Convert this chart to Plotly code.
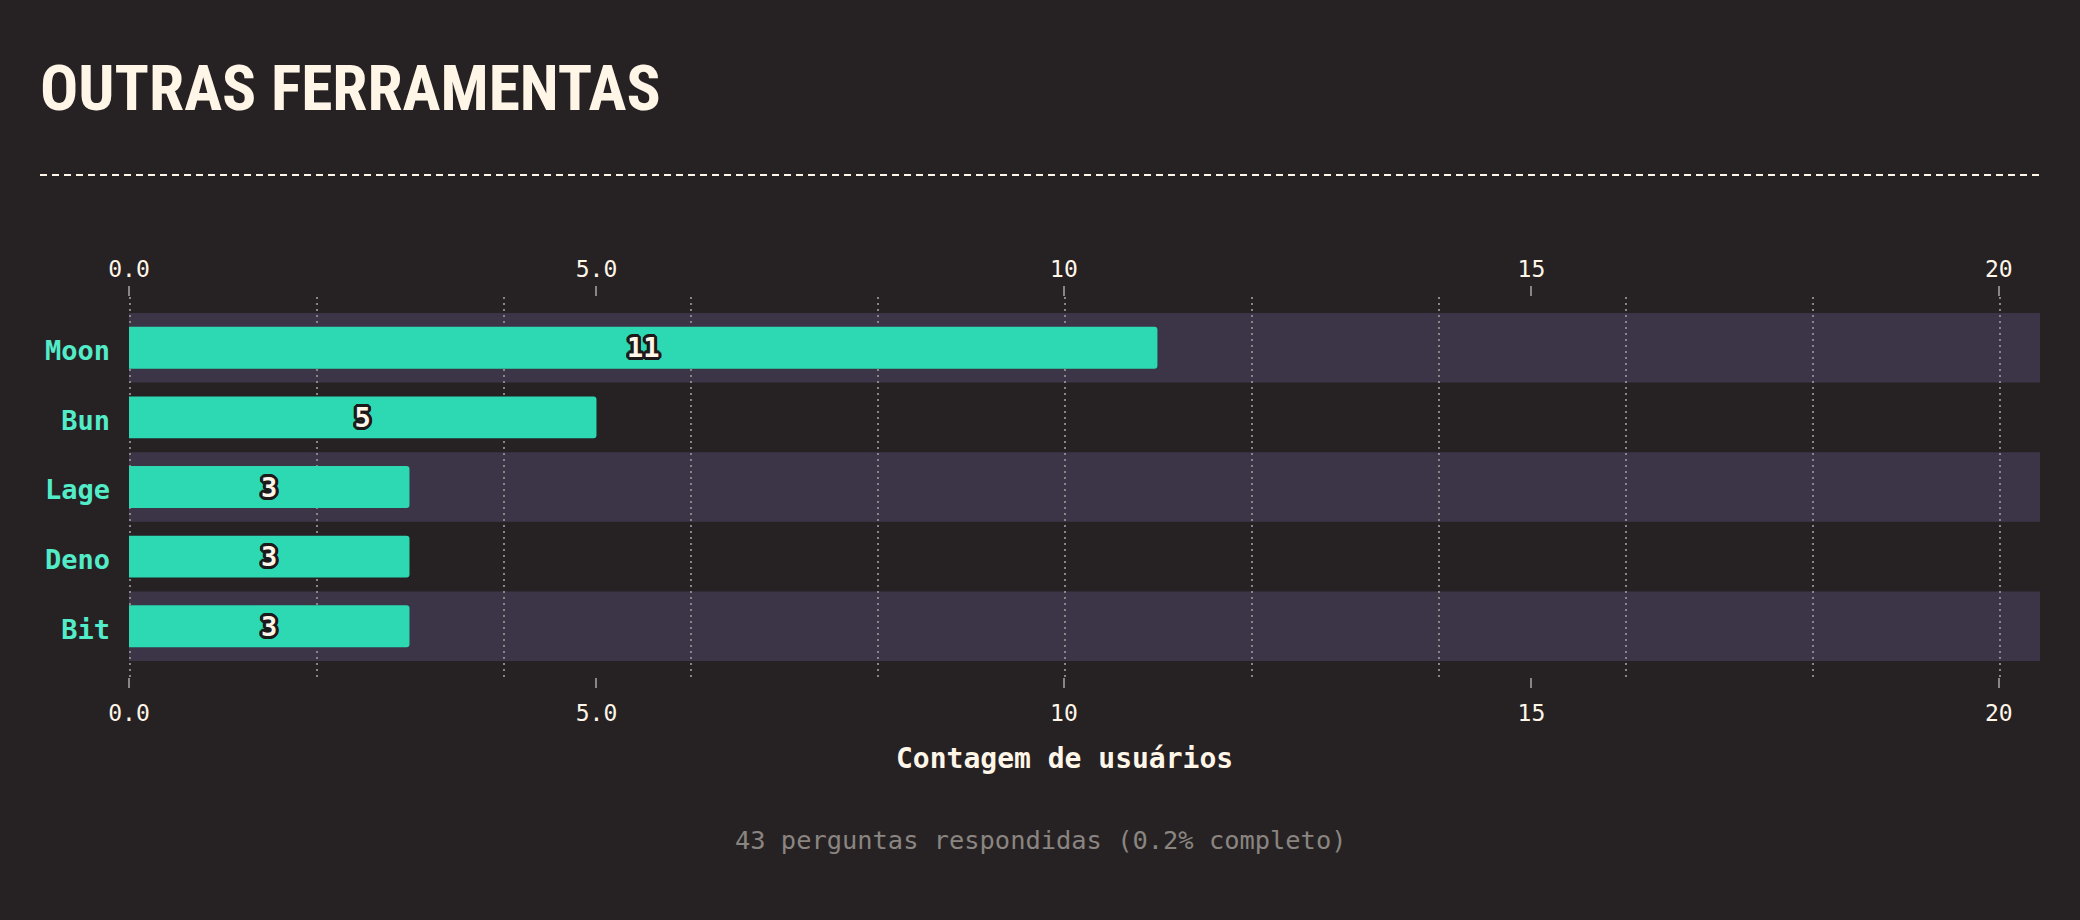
import plotly.graph_objects as go

# ---- data ----
categories = ["Moon", "Bun", "Lage", "Deno", "Bit"]
counts = [11, 5, 3, 3, 3]
tick_vals = [0, 5, 10, 15, 20]
tick_text = ["0.0", "5.0", "10", "15", "20"]
title_text = "OUTRAS FERRAMENTAS"
axis_title = "Contagem de usuários"
footer_text = "43 perguntas respondidas (0.2% completo)"

# ---- style ----
BG = "#262224"
BAND = "#3b3547"
BAR = "#2cd9b2"
CREAM = "#fff6e8"
LABEL = "#52ecc8"
GRID = "#8a8489"
MONO = "DejaVu Sans Mono, Liberation Mono, monospace"
TITLE_FONT = "Roboto Condensed, DejaVu Sans Condensed, Liberation Sans Narrow, sans-serif"

W, H = 2080, 920
ML, MR, MT, MB = 129, 40, 297, 243
XMAX = 20.44
PAD = 0.229
TITLE_SIZE = 63.5

fig = go.Figure()

outline = ", ".join(
    f"{dx}px {dy}px 0 #1d191b"
    for dx, dy in [(-2, -2), (2, -2), (-2, 2), (2, 2), (0, 3), (0, -3), (3, 0), (-3, 0),
                   (-3, -1), (3, 1), (1, 3), (-1, -3), (3, -1), (-3, 1), (1, -3), (-1, 3)]
)

fig.add_trace(go.Bar(
    x=counts,
    y=categories,
    orientation="h",
    width=0.6,
    marker=dict(color=BAR, line=dict(width=0), cornerradius=3),
    text=[str(c) for c in counts],
    textposition="inside",
    insidetextanchor="middle",
    constraintext="none",
    textangle=0,
    textfont=dict(family=MONO, size=27, color=CREAM, weight="bold", shadow=outline),
    hoverinfo="skip",
    showlegend=False,
))

# alternating background bands
for i, cat in enumerate(categories):
    if i % 2 == 0:
        fig.add_shape(type="rect", xref="x domain", yref="y",
                      x0=0, x1=1, y0=i - 0.5, y1=i + 0.5,
                      fillcolor=BAND, line=dict(width=0), layer="below")

# dashed separator under the title
fig.add_shape(type="line", xref="paper", yref="paper",
              x0=(40 - ML) / (W - ML - MR), x1=1.0,
              y0=(H - MB - 175) / (H - MT - MB), y1=(H - MB - 175) / (H - MT - MB),
              line=dict(color=CREAM, width=2, dash="7px,5px"))

tickfont = dict(family=MONO, size=23, color=CREAM)

fig.update_layout(
    width=W, height=H,
    paper_bgcolor=BG, plot_bgcolor=BG,
    margin=dict(l=ML, r=MR, t=MT, b=MB),
    bargap=0.4,
    title=dict(text=title_text, x=40 / W, xanchor="left", xref="container",
               y=1 - (111 - 0.37 * TITLE_SIZE) / H, yanchor="middle", yref="container",
               font=dict(family=TITLE_FONT, size=TITLE_SIZE, color=CREAM, weight="bold")),
    xaxis=dict(range=[0, XMAX], tickvals=tick_vals, ticktext=tick_text,
               ticks="outside", ticklen=10, tickwidth=2, tickcolor=GRID,
               showgrid=False, zeroline=False, showline=False,
               tickfont=tickfont, ticklabelstandoff=5, fixedrange=True),
    xaxis2=dict(range=[0, XMAX], overlaying="x", matches="x", side="top", anchor="y",
                tickvals=tick_vals, ticktext=tick_text,
                ticks="outside", ticklen=10, tickwidth=2, tickcolor=GRID,
                showgrid=False, zeroline=False, showline=False,
                tickfont=tickfont, ticklabelstandoff=0),
    xaxis3=dict(range=[-0.012, XMAX - 0.012], overlaying="x", anchor="y",
                dtick=2, tick0=0, showticklabels=False, ticks="",
                showgrid=True, gridcolor=GRID, gridwidth=2, griddash="2px,4px",
                zeroline=False, showline=False, fixedrange=True),
    yaxis=dict(categoryorder="array", categoryarray=categories,
               range=[len(categories) - 0.5 + PAD, -0.5 - PAD],
               ticks="", showgrid=False, zeroline=False, showline=False,
               tickfont=dict(family=MONO, size=27, color=LABEL, weight="bold"),
               ticklabelstandoff=18, ticklabelshift=-3, fixedrange=True),
    annotations=[
        dict(text=f"<b>{axis_title}</b>", xref="paper", yref="paper",
             x=(1064 - ML) / (W - ML - MR), y=(H - MB - 758) / (H - MT - MB),
             xanchor="center", yanchor="middle", showarrow=False,
             font=dict(family=MONO, size=28, color=CREAM)),
        dict(text=footer_text, xref="paper", yref="paper",
             x=(W / 2 - ML) / (W - ML - MR), y=(H - MB - 840) / (H - MT - MB),
             xanchor="center", yanchor="middle", showarrow=False,
             font=dict(family=MONO, size=25.4, color="#8a8580")),
    ],
)

# invisible traces so the overlay axes get drawn
fig.add_trace(go.Scatter(x=[0], y=[categories[0]], xaxis="x2", mode="markers",
                         marker=dict(opacity=0), hoverinfo="skip", showlegend=False))
fig.add_trace(go.Scatter(x=[0], y=[categories[0]], xaxis="x3", mode="markers",
                         marker=dict(opacity=0), hoverinfo="skip", showlegend=False))

fig.write_html("out.html", config={"displayModeBar": False})
